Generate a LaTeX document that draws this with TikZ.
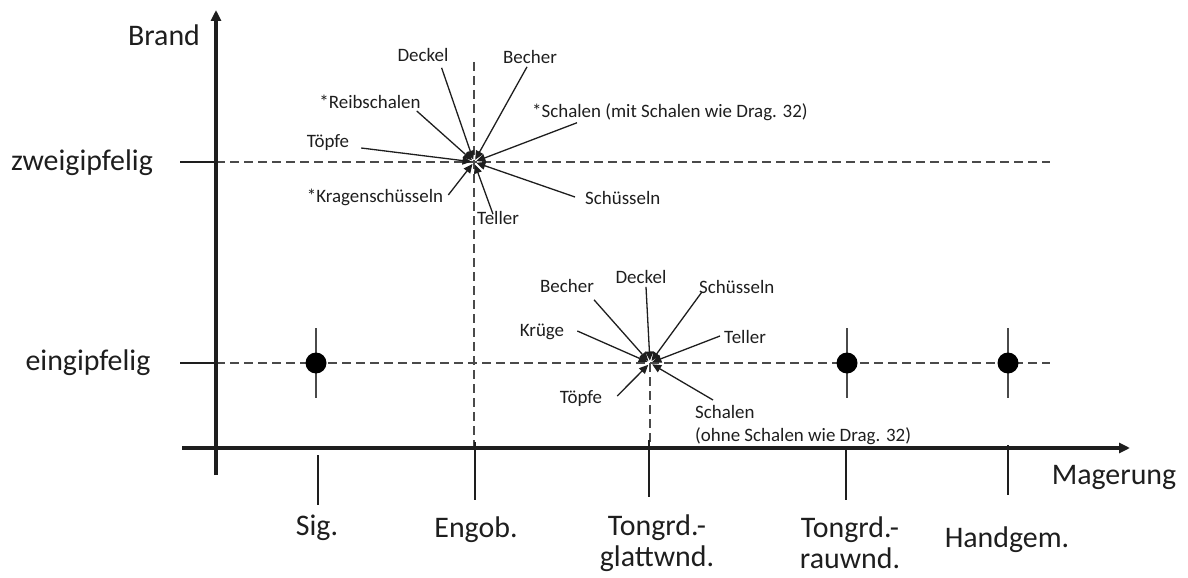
\documentclass[tikz,border=0pt]{standalone}
\usepackage{fontspec}
\setmainfont{Carlito}
\usetikzlibrary{arrows.meta,positioning}
\definecolor{ink}{HTML}{1E1E1E}
\definecolor{dashgray}{HTML}{4A4A4A}
\newcommand{\smallfont}{\fontsize{19}{23}\selectfont}
\newcommand{\bigfont}{\fontsize{30}{31}\selectfont}

\begin{document}
\begin{tikzpicture}[
  x=1bp,y=-1bp,
  axis/.style={draw=ink,line width=3.2bp,-{Triangle[length=11bp,width=10bp]}},
  guide/.style={draw=dashgray,line width=1.5bp,dash pattern=on 9bp off 5bp},
  tick/.style={draw=ink,line width=1.1bp},
  ptr/.style={draw=ink,line width=1.3bp,-{Triangle[length=9bp,width=8bp]},shorten >=2.5bp},
  lbl/.style={text=ink,font=\smallfont,inner sep=0pt},
  cat/.style={text=ink,font=\bigfont,inner sep=0pt,align=center},
  dot/.style={circle,fill=black,minimum size=21bp,inner sep=0pt}
]
\useasboundingbox (0,0) rectangle (1188,578);

% Schnittpunkte
\coordinate (c1) at (474,162);
\coordinate (c2) at (650,363);

% Hilfslinien
\draw[tick] (180,162) -- (216,162);
\draw[guide] (216,162) -- (1050,162);
\draw[tick] (180,363) -- (216,363);
\draw[guide] (216,363) -- (1050,363);
\draw[guide] (474,62) -- (474,448);
\draw[guide] (c2) -- (650,448);

% Achsen
\coordinate (ybot) at (216,475);
\coordinate (ytop) at (216,10);
\coordinate (xleft) at (182,448);
\coordinate (xright) at (1130,448);
\draw[axis] (ybot) -- (ytop);
\draw[axis] (xleft) -- (xright);

\node[cat] (brand) at (164,35) {Brand};
\node[cat] (zwei) at (82,163) {zweigipfelig};
\node[cat] (ein) at (88,363) {eingipfelig};
\node[cat] (mager) at (1114,477) {Magerung};

% Teilstriche und Warenarten
\foreach \x/\a/\b in {318/455/505,475/442/500,649/440/497,846/450/500,1008/445/495}
  \draw[tick] (\x,\a) -- (\x,\b);
\node[cat] (sig) at (317,528) {Sig.};
\node[cat] (engob) at (476,530) {Engob.};
\node[cat] (glatt) at (657,543) {Tongrd.-\\glattwnd.};
\node[cat] (rau) at (850,543) {Tongrd.-\\rauwnd.};
\node[cat] (hand) at (1007,540) {Handgem.};

% Punkte eingipfelig
\foreach \x/\n in {316/sigdot,847/raudot,1008/handdot}{
  \draw[tick,draw=dashgray] (\x,328) -- (\x,398);
  \node[dot] (\n) at (\x,363) {};
}

% zweigipfelig, Engobe
\node[lbl] (deckelA) at (423,55) {Deckel};
\node[lbl] (becherA) at (530,57) {Becher};
\node[lbl] (reibA) at (370,102) {*Reibschalen};
\node[lbl,anchor=west] (schalenA) at (532,112) {*Schalen (mit Schalen wie Drag. 32)};
\node[lbl] (toepfeA) at (328,143) {Töpfe};
\node[lbl] (kragenA) at (375,197) {*Kragenschüsseln};
\node[lbl,anchor=west] (tellerA) at (477,218) {Teller};
\node[lbl,anchor=west] (schuesselnA) at (585,198) {Schüsseln};

\draw[ptr] ([shift={(-7,6)}]deckelA.south east) -- (c1);
\draw[ptr] ([shift={(-3,3)}]becherA.south) -- (c1);
\draw[ptr] ([shift={(-4,2)}]reibA.south east) -- (c1);
\draw[ptr] ([shift={(45,2)}]schalenA.south west) -- (c1);
\draw[ptr] ([shift={(12,5)}]toepfeA.east) -- (c1);
\draw[ptr] ([shift={(5,-2)}]kragenA.east) -- (c1);
\draw[ptr] ([shift={(16,3)}]tellerA.north west) -- (c1);
\draw[ptr] ([shift={(-10,-1)}]schuesselnA.west) -- (c1);

% eingipfelig, Tongrund glattwandig
\node[lbl] (becherB) at (567,286) {Becher};
\node[lbl] (deckelB) at (641,277) {Deckel};
\node[lbl,anchor=west] (schuesselnB) at (699,287) {Schüsseln};
\node[lbl] (kruegeB) at (542,332) {Krüge};
\node[lbl,anchor=west] (tellerB) at (724,337) {Teller};
\node[lbl] (toepfeB) at (581,399) {Töpfe};
\node[lbl,anchor=north west,align=left] (schalenB) at (695,405) {Schalen\\(ohne Schalen wie Drag. 32)};

\draw[ptr] ([shift={(0,7)}]becherB.south east) -- (c2);
\draw[ptr] ([shift={(5,3)}]deckelB.south) -- (c2);
\draw[ptr] ([shift={(3,-2)}]schuesselnB.south west) -- (c2);
\draw[ptr] ([shift={(13,-1)}]kruegeB.east) -- (c2);
\draw[ptr] ([shift={(-4,-1)}]tellerB.west) -- (c2);
\draw[ptr] ([shift={(15,-3)}]toepfeB.east) -- (c2);
\draw[ptr] ([shift={(18,-5)}]schalenB.north west) -- (c2);
\end{tikzpicture}
\end{document}
